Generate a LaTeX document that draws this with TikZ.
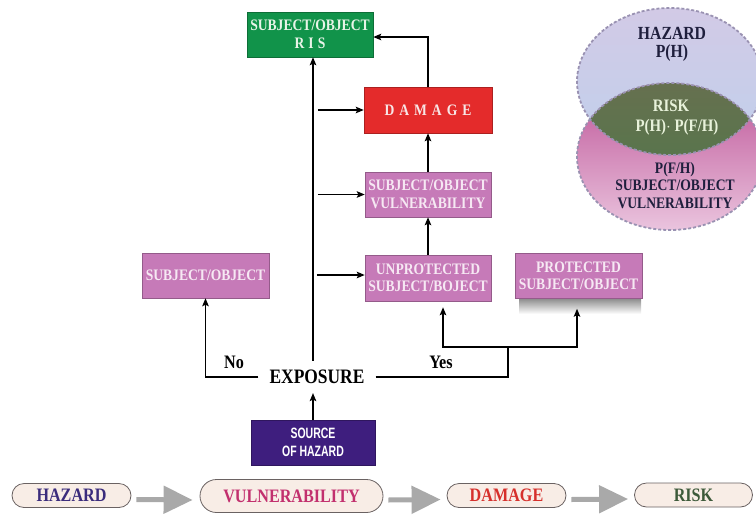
\documentclass[tikz,border=0pt]{standalone}
\usepackage{fontspec}
\setmainfont{Liberation Serif}
\newfontfamily\condf[FakeStretch=0.85]{Liberation Serif}
\newfontfamily\condsf[FakeStretch=0.7]{Liberation Sans}
\usetikzlibrary{arrows.meta,shapes.misc,calc}
\definecolor{risgreen}{HTML}{11934A}
\definecolor{ristext}{HTML}{E8F4E8}
\definecolor{dmgred}{HTML}{E42B2B}
\definecolor{dmgtext}{HTML}{F8E6E6}
\definecolor{pinkbox}{HTML}{C67AB8}
\definecolor{pinktext}{HTML}{F6E8F3}
\definecolor{srcpurple}{HTML}{3E1E7E}
\definecolor{pillfill}{HTML}{F8EDE6}
\definecolor{pilldraw}{HTML}{6A6262}
\definecolor{hzcol}{HTML}{3B2C7C}
\definecolor{vulcol}{HTML}{C2306E}
\definecolor{dmgcol}{HTML}{D6302C}
\definecolor{rskcol}{HTML}{3D5A3A}
\definecolor{vtopA}{HTML}{D2CAE6}
\definecolor{vtopB}{HTML}{C0D0EC}
\definecolor{vbotA}{HTML}{BE5598}
\definecolor{vbotB}{HTML}{EAC4DE}
\definecolor{lensA}{HTML}{66704F}
\definecolor{lensB}{HTML}{4C7A4A}
\definecolor{lenstext}{HTML}{E8F2DA}
\definecolor{venntext}{HTML}{1F1F3D}
\definecolor{vdashcol}{HTML}{9A92B2}
\definecolor{garrow}{HTML}{A9A9A9}
\begin{document}
\begin{tikzpicture}[x=1pt,y=-1pt,
  box/.style={rectangle, draw=#1!75!black, line width=0.5pt, fill=#1,
    minimum width=126pt, minimum height=45pt, inner sep=0pt, align=center,
    font=\condf\bfseries\fontsize{16}{17.5}\selectfont},
  arr/.style={-{Stealth[length=8pt,width=6.5pt,inset=1.5pt]}, line width=1.4pt},
  plainline/.style={line width=1.4pt},
  lab/.style={font=\condf\bfseries\fontsize{19}{20}\selectfont, inner sep=0pt},
  pill/.style={rounded rectangle, draw=pilldraw, line width=0.8pt, fill=pillfill,
    minimum height=24pt, inner sep=0pt, font=\condf\bfseries\fontsize{19}{20}\selectfont},
  garr/.style={-{Triangle[length=29pt,width=27pt]}, line width=5pt, draw=garrow},
  vdash/.style={draw=vdashcol, line width=1.8pt, dash pattern=on 3pt off 2pt},
  vtext/.style={text=venntext, inner sep=0pt, align=center}
]
\useasboundingbox (0,0) rectangle (756,515);
\clip (0,0) rectangle (756,515);

% Venn diagram
\shade[top color=vtopA, bottom color=vtopB] (670,81.5) ellipse [x radius=93, y radius=73.5];
\shade[top color=vbotA, bottom color=vbotB] (670,156.5) ellipse [x radius=93, y radius=73.5];
\begin{scope}
  \clip (670,81.5) ellipse [x radius=93, y radius=73.5];
  \shade[top color=lensA, bottom color=lensB] (670,156.5) ellipse [x radius=93, y radius=73.5];
\end{scope}
\draw[vdash] (670,81.5) ellipse [x radius=93, y radius=73.5];
\draw[vdash] (670,156.5) ellipse [x radius=93, y radius=73.5];
\node[vtext, font=\condf\bfseries\fontsize{18.5}{18}\selectfont] (vhz) at (672,44) {HAZARD\\P(H)};
\node[vtext, text=lenstext, font=\condf\bfseries\fontsize{17.5}{19.5}\selectfont] (vrisk) at (677,117.5) {RISK\hspace{12pt}\null\\P(H)$\cdot$ P(F/H)};
\node[vtext, font=\condf\bfseries\fontsize{16}{17.5}\selectfont] (vso) at (675,185.5) {P(F/H)\\SUBJECT/OBJECT\\VULNERABILITY};

% flowchart boxes
\node[box=risgreen, text=ristext] (ris) at (310,34.5) {SUBJECT/OBJECT\\R\hspace{4pt}I\hspace{4pt}S};
\node[box=dmgred, text=dmgtext, minimum width=128pt, minimum height=46pt] (dmg) at (428,110)
  {D\hspace{5pt}A\hspace{5pt}M\hspace{5pt}A\hspace{5pt}G\hspace{5pt}E};
\node[box=pinkbox, text=pinktext] (vul) at (428,194.5) {SUBJECT/OBJECT\\VULNERABILITY};
\node[box=pinkbox, text=pinktext, minimum height=46pt] (unp) at (428,278) {UNPROTECTED\\SUBJECT/BOJECT};
\fill[top color=black!45, bottom color=white] (519,298.5) rectangle (641,314);
\node[box=pinkbox, text=pinktext, minimum width=127pt] (pro) at (578.5,276) {PROTECTED\\SUBJECT/OBJECT};
\node[box=pinkbox, text=pinktext, minimum width=127pt] (sl) at (205.5,275.5) {SUBJECT/OBJECT};
\node[font=\condf\bfseries\fontsize{20.5}{21}\selectfont, inner xsep=11pt, inner ysep=9pt] (exp) at (317,377) {EXPOSURE};
\node[box=srcpurple, text=white, minimum width=124pt, font=\condsf\bfseries\fontsize{15}{18}\selectfont] (src) at (313,442.5) {SOURCE\\OF HAZARD};

% connectors
\draw[arr] ([xshift=-4pt]exp.north) -- ([xshift=-4pt]exp.north |- ris.south);
\draw[arr] ([xshift=-46pt]dmg.west) -- (dmg.west);
\draw[arr] ([xshift=-47pt]vul.west) -- (vul.west);
\draw[arr] ([xshift=-48pt,yshift=3pt]unp.west) -- ([yshift=3pt]unp.west);
\draw[arr] (unp.north) -- (vul.south);
\draw[arr] (vul.north) -- (dmg.south);
\draw[arr] (dmg.north) |- ([yshift=-2.5pt]ris.east);
\draw[arr] (exp.west) -| (sl.south);
\coordinate (yj) at (508,347);
\draw[plainline] (exp.east) -| (yj);
\draw[arr] (yj) -| ([xshift=15pt,yshift=-6pt]unp.south);
\draw[arr] (yj) -| ([xshift=-1.5pt,yshift=-10pt]pro.south);
\draw[arr] (src.north) -- (src.north |- exp.south);
\node[lab] (no) at (234,362) {No};
\node[lab] (yes) at (441,362) {Yes};

% bottom chain
\node[pill, minimum width=119pt, text=hzcol] (hz) at (71.5,495.5) {HAZARD};
\node[pill, minimum width=183pt, minimum height=33pt, text=vulcol] (vp) at (291.5,496) {VULNERABILITY};
\node[pill, minimum width=119pt, text=dmgcol] (dp) at (506.5,495.5) {DAMAGE};
\node[pill, minimum width=118pt, text=rskcol] (rp) at (693.5,495) {RISK};
\draw[garr] ([xshift=5pt,yshift=-4pt]hz.east) -- ([xshift=-7pt,yshift=-4pt]vp.west);
\draw[garr] ([xshift=5pt,yshift=-4pt]vp.east) -- ([xshift=-6pt,yshift=-4pt]dp.west);
\draw[garr] ([xshift=5pt,yshift=-4pt]dp.east) -- ([xshift=-6pt,yshift=-4pt]rp.west);
\end{tikzpicture}
\end{document}
